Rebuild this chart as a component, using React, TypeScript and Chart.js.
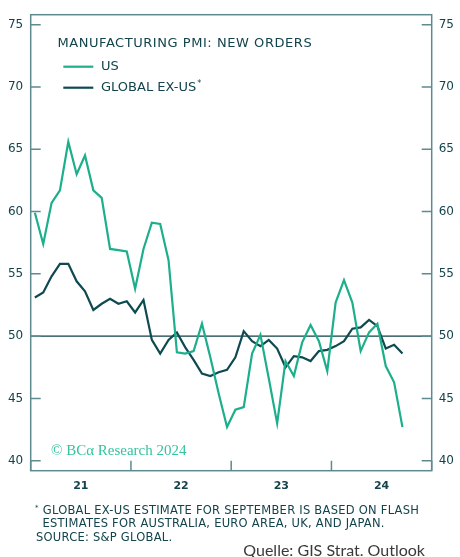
import React, { useEffect, useRef } from 'react';
import { Chart, registerables } from 'chart.js';

Chart.register(...registerables);

// Monthly observations, Jan 2021 – Sep 2024
const usNewOrders = [
  59.9, 57.4, 60.7, 61.7, 65.6, 63.0, 64.5, 61.7, 61.1, 57.0,
  56.9, 56.8, 53.8, 57.0, 59.1, 59.0, 56.1, 48.7, 48.6, 48.8,
  51.0, 48.3, 45.4, 42.7, 44.1, 44.3, 48.6, 50.1, 46.6, 43.0,
  48.0, 46.8, 49.5, 50.9, 49.6, 47.2, 52.7, 54.5, 52.7, 48.8,
  50.3, 51.0, 47.6, 46.3, 42.7,
];
const globalExUsNewOrders = [
  53.1, 53.5, 54.8, 55.8, 55.8, 54.4, 53.6, 52.1, 52.6, 53.0,
  52.6, 52.8, 51.9, 52.9, 49.7, 48.6, 49.7, 50.3, 49.1, 48.1,
  47.0, 46.8, 47.1, 47.3, 48.3, 50.4, 49.6, 49.2, 49.7, 49.0,
  47.5, 48.4, 48.3, 48.0, 48.8, 48.9, 49.2, 49.6, 50.6, 50.7,
  51.3, 50.8, 49.0, 49.3, 48.6,
];
const yTickValues = [40, 45, 50, 55, 60, 65, 70, 75];
const yearLabels = ['21', '22', '23', '24'];
const yearBoundaries = [0, 12, 24, 36, 48]; // months since Jan 2021
const yearCenters = [6, 18, 30, 42];

const TEXT = '#13444c';
const AXIS = '#5d8b90';
const US_COLOR = '#1daf8c';
const GLOBAL_COLOR = '#0e4a50';

const W = 460;
const H = 557;

const decorPlugin = {
  id: 'decor',
  beforeDatasetsDraw(chart: any) {
    const { ctx, chartArea, scales } = chart;
    const y50 = scales.y.getPixelForValue(50);
    ctx.save();
    ctx.strokeStyle = '#0f3f45';
    ctx.lineWidth = 1.3;
    ctx.beginPath();
    ctx.moveTo(chartArea.left, y50);
    ctx.lineTo(chartArea.right, y50);
    ctx.stroke();
    ctx.restore();
  },
  afterDatasetsDraw(chart: any) {
    const { ctx, chartArea, scales } = chart;
    const { left, right, top, bottom } = chartArea;
    ctx.save();
    // box
    ctx.strokeStyle = AXIS;
    ctx.lineWidth = 1.5;
    ctx.strokeRect(left, top, right - left, bottom - top);
    // inward ticks
    const tl = 10;
    ctx.beginPath();
    yTickValues.forEach((v) => {
      const py = scales.y.getPixelForValue(v);
      ctx.moveTo(left, py);
      ctx.lineTo(left + tl, py);
      ctx.moveTo(right, py);
      ctx.lineTo(right - tl, py);
    });
    yearBoundaries.forEach((m) => {
      const px = scales.x.getPixelForValue(m);
      ctx.moveTo(px, bottom);
      ctx.lineTo(px, bottom - tl);
    });
    ctx.stroke();

    // title
    ctx.fillStyle = TEXT;
    ctx.textBaseline = 'middle';
    ctx.textAlign = 'left';
    ctx.font = '13px "DejaVu Sans"';
    (ctx as any).letterSpacing = '0.55px';
    ctx.fillText('MANUFACTURING PMI: NEW ORDERS', 57.5, 44);
    (ctx as any).letterSpacing = '0px';

    // legend
    const items = [
      { label: 'US', color: US_COLOR, y: 66.7, star: false },
      { label: 'GLOBAL EX-US', color: GLOBAL_COLOR, y: 87.7, star: true },
    ];
    items.forEach((it) => {
      ctx.strokeStyle = it.color;
      ctx.lineWidth = 2.2;
      ctx.beginPath();
      ctx.moveTo(63.3, it.y);
      ctx.lineTo(93.3, it.y);
      ctx.stroke();
      ctx.fillStyle = TEXT;
      ctx.font = '13px "DejaVu Sans"';
      ctx.fillText(it.label, 101, it.y);
      if (it.star) {
        const w = ctx.measureText(it.label).width;
        ctx.font = '8px "DejaVu Sans"';
        ctx.fillText('*', 101 + w + 1, it.y - 4);
      }
    });

    // watermark
    ctx.fillStyle = '#34c39d';
    ctx.font = '15px "Liberation Serif"';
    ctx.fillText('\u00A9 BC\u03B1 Research 2024', 51, 451);
    ctx.restore();
  },
};

export default function App() {
  const canvasRef = useRef<HTMLCanvasElement | null>(null);

  useEffect(() => {
    document.body.style.margin = '0';
    const canvas = canvasRef.current;
    if (!canvas) return;
    const toPoints = (arr: number[]) => arr.map((v, i) => ({ x: i + 0.5, y: v }));
    const tickFont = { family: '"DejaVu Sans"', size: 12 };
    const yCommon = {
      type: 'linear' as const,
      min: 39.2,
      max: 75.8,
      afterBuildTicks: (s: any) => {
        s.ticks = yTickValues.map((v) => ({ value: v }));
      },
      grid: { display: false, drawTicks: false },
      border: { display: false },
    };
    const chart = new Chart(canvas, {
      type: 'line',
      data: {
        datasets: [
          {
            label: 'US',
            data: toPoints(usNewOrders),
            borderColor: US_COLOR,
            borderWidth: 2.2,
            pointRadius: 0,
            tension: 0,
            yAxisID: 'y',
          },
          {
            label: 'GLOBAL EX-US*',
            data: toPoints(globalExUsNewOrders),
            borderColor: GLOBAL_COLOR,
            borderWidth: 2.2,
            pointRadius: 0,
            tension: 0,
            yAxisID: 'y',
          },
        ],
      },
      options: {
        animation: false,
        responsive: false,
        devicePixelRatio: 1,
        layout: { padding: { top: 11, left: 0, right: 0, bottom: 0 } },
        plugins: { legend: { display: false }, tooltip: { enabled: false } },
        scales: {
          x: {
            type: 'linear',
            position: 'bottom',
            min: 0,
            max: 48,
            afterBuildTicks: (s: any) => {
              s.ticks = yearCenters.map((v) => ({ value: v }));
            },
            afterFit: (s: any) => {
              s.height = H - 470.7;
            },
            ticks: {
              callback: (v: any) => yearLabels[yearCenters.indexOf(Number(v))] ?? '',
              font: { family: '"DejaVu Sans"', size: 11, weight: 'bold' },
              color: TEXT,
              padding: 9,
              maxRotation: 0,
              autoSkip: false,
            },
            grid: { display: false, drawTicks: false },
            border: { display: false },
          },
          y: {
            ...yCommon,
            position: 'left',
            afterFit: (s: any) => {
              s.width = 30.7;
            },
            ticks: { font: tickFont, color: TEXT, padding: 7.5 },
          },
          y2: {
            ...yCommon,
            position: 'right',
            afterFit: (s: any) => {
              s.width = W - 431.7;
            },
            ticks: { font: tickFont, color: TEXT, padding: 7 },
          },
        },
      },
      plugins: [decorPlugin],
    } as any);
    return () => chart.destroy();
  }, []);

  const noteStyle: React.CSSProperties = {
    position: 'absolute',
    fontFamily: '"DejaVu Sans", sans-serif',
    fontSize: '11.5px',
    lineHeight: '14px',
    color: TEXT,
    whiteSpace: 'nowrap',
    letterSpacing: '0.25px',
  };

  return (
    <div style={{ position: 'relative', width: W, height: H, background: '#ffffff', overflow: 'hidden' }}>
      <canvas ref={canvasRef} width={W} height={H} style={{ position: 'absolute', left: 0, top: 0, width: W, height: H }} />
      <div style={{ ...noteStyle, left: 35, top: 501 }}>
        <span style={{ fontSize: '7px', verticalAlign: '4px', marginRight: 4 }}>*</span>GLOBAL EX-US ESTIMATE FOR SEPTEMBER IS BASED ON FLASH
      </div>
      <div style={{ ...noteStyle, left: 42.5, top: 516 }}>ESTIMATES FOR AUSTRALIA, EURO AREA, UK, AND JAPAN.</div>
      <div style={{ ...noteStyle, left: 36, top: 530 }}>SOURCE: S&amp;P GLOBAL.</div>
      <div
        style={{
          position: 'absolute',
          right: 35,
          top: 540,
          fontFamily: 'Lato, sans-serif',
          fontSize: '16px',
          lineHeight: '20px',
          color: '#3a3a3a',
          whiteSpace: 'nowrap',
        }}
      >
        Quelle: GIS Strat. Outlook
      </div>
    </div>
  );
}
